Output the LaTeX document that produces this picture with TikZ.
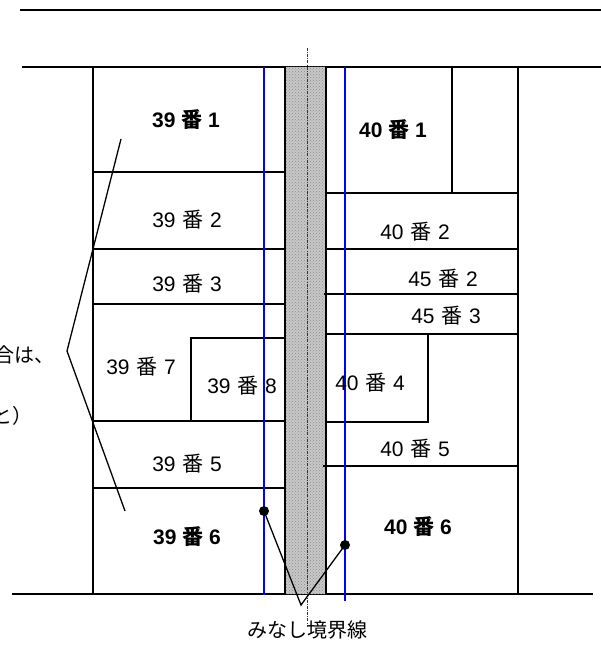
\documentclass[tikz,border=0pt]{standalone}
\usepackage{fontspec}
\usetikzlibrary{patterns}
\setmainfont{Liberation Sans}
\newfontfamily\cjk{Noto Sans CJK JP}
\newcommand{\lotno}[2]{#1\hspace{0.32em}{\cjk 番}\hspace{0.32em}#2}
\newcommand{\lotbf}[2]{\textbf{#1\hspace{0.28em}{\cjk\bfseries 番}\hspace{0.28em}#2}}
\begin{document}
\begin{tikzpicture}[x=1pt,y=-1pt,
  lotlabel/.style={font=\fontsize{21}{23}\selectfont, inner sep=0pt},
  cjklabel/.style={font=\fontsize{20}{22}\selectfont\cjk, inner sep=0pt},
  outline/.style={line width=1.7pt, black},
  divider/.style={line width=1.3pt, black},
  road/.style={line width=1.5pt, black},
  blueline/.style={line width=1.6pt, blue},
  centerline/.style={line width=0.7pt, black!80, dash pattern=on 3pt off 1.2pt on 0.8pt off 1.2pt},
  leader/.style={line width=1.3pt, black},
  dot/.style={circle, fill=black, inner sep=0pt, minimum size=10pt}]
\useasboundingbox (0,0) rectangle (601,655);
% roads
\draw[road] (20,10) -- (601,10);
\draw[road] (22,67) -- (601,67);
\draw[road] (12,594) -- (593,594);
% gray strip
\fill[black!22] (285,67) rectangle (326,594);
\fill[pattern=crosshatch dots, pattern color=black!45] (285,67) rectangle (326,594);
% center dashed line
\draw[centerline] (307,48) -- (307,627);
% left block
\draw[outline] (93,67) rectangle (285,594);
\draw[divider] (93,172) -- (285,172);
\draw[divider] (93,249) -- (285,249);
\draw[divider] (93,304) -- (285,304);
\draw[divider] (93,421) -- (285,421);
\draw[divider] (93,488) -- (285,488);
\draw[divider] (191,421) -- (191,338) -- (285,338);
% right block
\draw[outline] (326,67) rectangle (518,594);
\draw[divider] (452,67) -- (452,193);
\draw[divider] (326,193) -- (518,193);
\draw[divider] (326,249) -- (518,249);
\draw[divider] (324,294) -- (518,294);
\draw[divider] (326,334) -- (518,334);
\draw[divider] (428,334) -- (428,422) -- (326,422);
\draw[divider] (323,466) -- (518,466);
% blue lines
\draw[blueline] (264,67) -- (264,595);
\draw[blueline] (345,67) -- (345,601);
% labels
\node[lotlabel] (l391) at (186,120) {\lotbf{39}{1}};
\node[lotlabel] (l392) at (187,220) {\lotno{39}{2}};
\node[lotlabel] (l393) at (187,284) {\lotno{39}{3}};
\node[lotlabel] (l397) at (141,367) {\lotno{39}{7}};
\node[lotlabel] (l398) at (242,386) {\lotno{39}{8}};
\node[lotlabel] (l395) at (187,464) {\lotno{39}{5}};
\node[lotlabel] (l396) at (187,537) {\lotbf{39}{6}};
\node[lotlabel] (l401) at (393,130) {\lotbf{40}{1}};
\node[lotlabel] (l402) at (415,232) {\lotno{40}{2}};
\node[lotlabel] (l452) at (443,279) {\lotno{45}{2}};
\node[lotlabel] (l453) at (446,316) {\lotno{45}{3}};
\node[lotlabel] (l404) at (370,383) {\lotno{40}{4}};
\node[lotlabel] (l405) at (415,449) {\lotno{40}{5}};
\node[lotlabel] (l406) at (418,527) {\lotbf{40}{6}};
\node[cjklabel, anchor=west] (noteA) at (-6,355) {合は、};
\node[cjklabel, anchor=west] (noteB) at (-8,416) {と）};
\node[cjklabel] (mlabel) at (307,630) {みなし境界線};
% bracket
\coordinate (bt) at (121,139);
\coordinate (bv) at (67,351);
\coordinate (bb) at (125,511);
\draw[leader] (bt) -- (bv) -- (bb);
% leaders to boundary lines
\node[dot] (dA) at (264,511) {};
\node[dot] (dB) at (345,545) {};
\coordinate (conv) at (301,605);
\draw[leader] (dA.center) -- (conv) -- (dB.center);
\end{tikzpicture}
\end{document}
